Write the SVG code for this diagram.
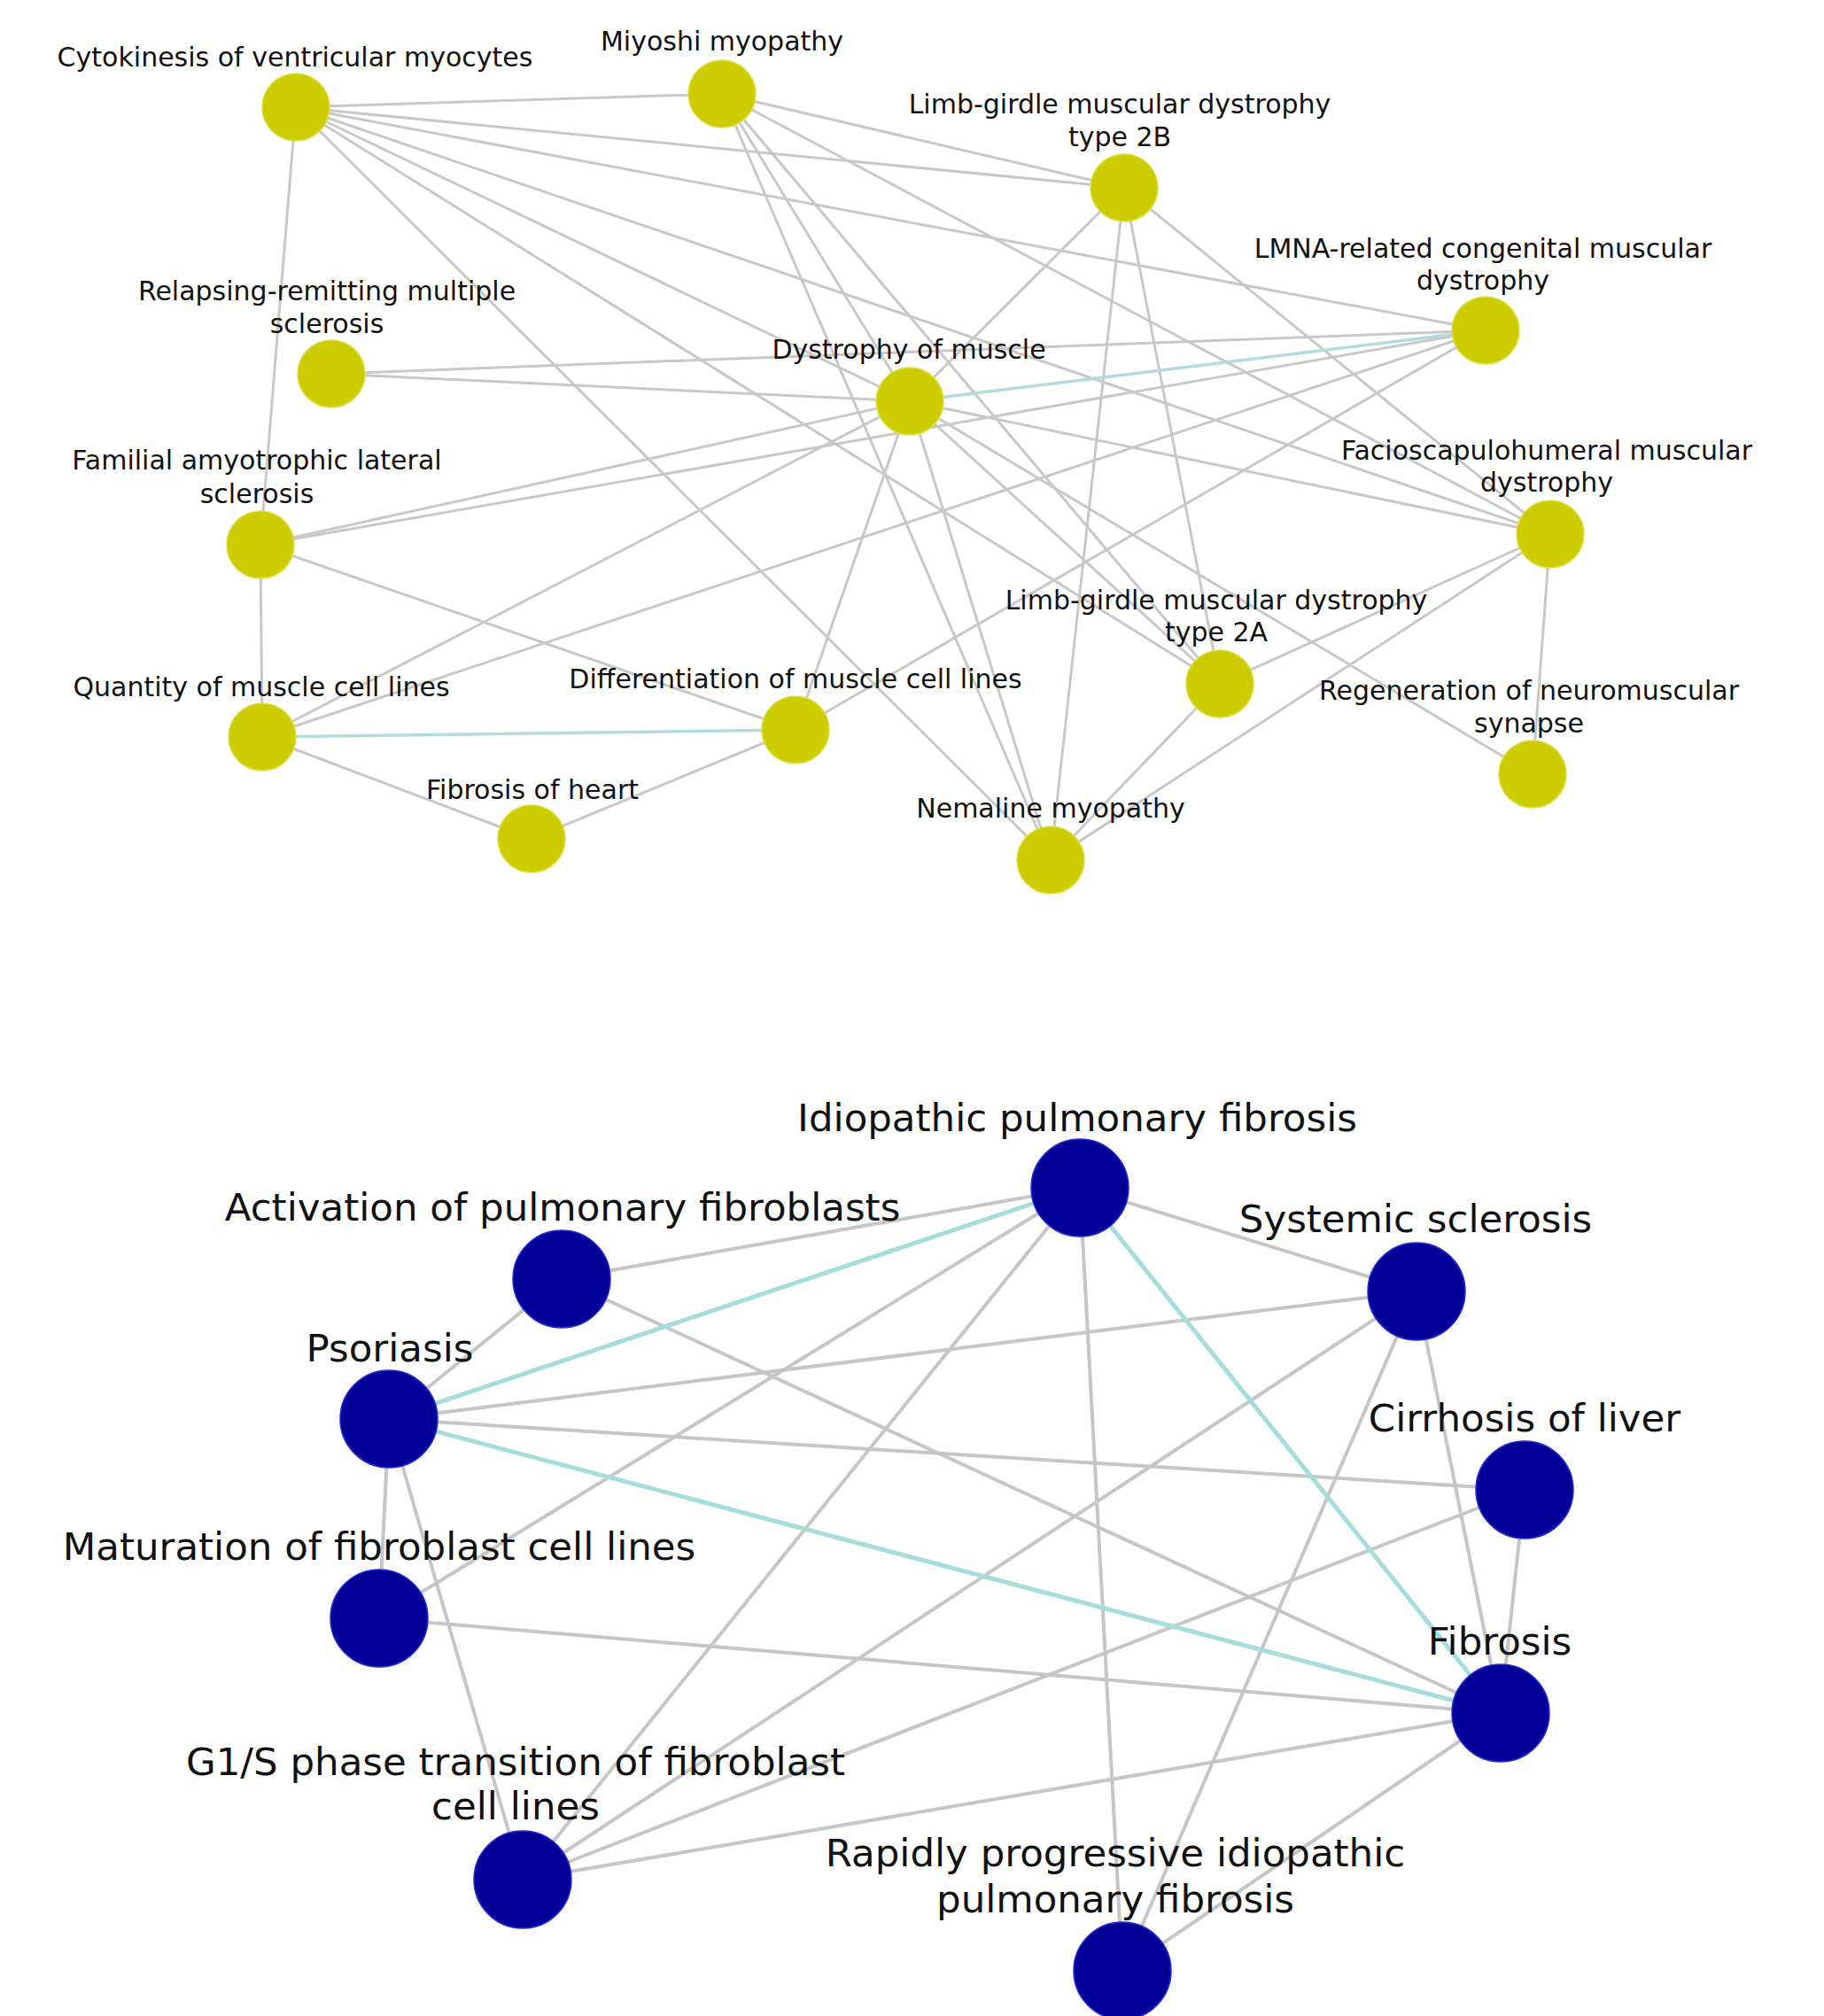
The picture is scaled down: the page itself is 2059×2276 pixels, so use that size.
<svg xmlns="http://www.w3.org/2000/svg" width="2059" height="2276" viewBox="0 0 2059 2276">
<style>
.e{stroke:#c8c8c8;stroke-width:3;fill:none}
.eb{stroke:#b3dadd;stroke-width:3.5;fill:none}
.E{stroke:#c6c6c6;stroke-width:4;fill:none}
.EB{stroke:#a6dcdc;stroke-width:5;fill:none}
.ny{fill:#cccc00;stroke:#dede40;stroke-width:1.5}
.nb{fill:#000099;stroke:#2a2ad0;stroke-width:1.5}
.t{font-family:"DejaVu Sans",Verdana,sans-serif;font-size:30px;fill:#111;text-anchor:middle}
.T{font-family:"DejaVu Sans",Verdana,sans-serif;font-size:43.5px;fill:#111;text-anchor:middle}
</style>
<rect width="2059" height="2276" fill="#ffffff"/>
<g id="connectors">
<line class="e" x1="334" y1="121" x2="815" y2="106"/>
<line class="e" x1="334" y1="121" x2="1269" y2="212"/>
<line class="e" x1="334" y1="121" x2="1677" y2="373"/>
<line class="e" x1="334" y1="121" x2="1750" y2="603"/>
<line class="e" x1="334" y1="121" x2="1027" y2="453"/>
<line class="e" x1="334" y1="121" x2="1377" y2="772"/>
<line class="e" x1="334" y1="121" x2="1186" y2="971"/>
<line class="e" x1="334" y1="121" x2="294" y2="615"/>
<line class="e" x1="815" y1="106" x2="1269" y2="212"/>
<line class="e" x1="815" y1="106" x2="1750" y2="603"/>
<line class="e" x1="815" y1="106" x2="1377" y2="772"/>
<line class="e" x1="815" y1="106" x2="1186" y2="971"/>
<line class="e" x1="815" y1="106" x2="1027" y2="453"/>
<line class="e" x1="1269" y1="212" x2="1027" y2="453"/>
<line class="e" x1="1269" y1="212" x2="1750" y2="603"/>
<line class="e" x1="1269" y1="212" x2="1186" y2="971"/>
<line class="e" x1="1269" y1="212" x2="1377" y2="772"/>
<line class="e" x1="374" y1="422" x2="1027" y2="453"/>
<line class="e" x1="374" y1="422" x2="1677" y2="373"/>
<line class="e" x1="294" y1="615" x2="1027" y2="453"/>
<line class="e" x1="294" y1="615" x2="1677" y2="373"/>
<line class="e" x1="294" y1="615" x2="296" y2="832"/>
<line class="e" x1="294" y1="615" x2="898" y2="824"/>
<line class="e" x1="296" y1="832" x2="1027" y2="453"/>
<line class="e" x1="296" y1="832" x2="1677" y2="373"/>
<line class="e" x1="296" y1="832" x2="600" y2="947"/>
<line class="e" x1="898" y1="824" x2="600" y2="947"/>
<line class="e" x1="898" y1="824" x2="1027" y2="453"/>
<line class="e" x1="898" y1="824" x2="1677" y2="373"/>
<line class="e" x1="1027" y1="453" x2="1750" y2="603"/>
<line class="e" x1="1027" y1="453" x2="1377" y2="772"/>
<line class="e" x1="1027" y1="453" x2="1186" y2="971"/>
<line class="e" x1="1027" y1="453" x2="1730" y2="874"/>
<line class="e" x1="1750" y1="603" x2="1377" y2="772"/>
<line class="e" x1="1750" y1="603" x2="1186" y2="971"/>
<line class="e" x1="1750" y1="603" x2="1730" y2="874"/>
<line class="e" x1="1377" y1="772" x2="1186" y2="971"/>
<line class="eb" x1="1027" y1="453" x2="1677" y2="373"/>
<line class="eb" x1="296" y1="832" x2="898" y2="824"/>
<line class="E" x1="1219" y1="1341" x2="634" y2="1444"/>
<line class="E" x1="1219" y1="1341" x2="1599" y2="1458"/>
<line class="E" x1="1219" y1="1341" x2="1267" y2="2225"/>
<line class="E" x1="1219" y1="1341" x2="590" y2="2122"/>
<line class="E" x1="1219" y1="1341" x2="428" y2="1827"/>
<line class="E" x1="634" y1="1444" x2="439" y2="1602"/>
<line class="E" x1="634" y1="1444" x2="1694" y2="1934"/>
<line class="E" x1="439" y1="1602" x2="1599" y2="1458"/>
<line class="E" x1="439" y1="1602" x2="1721" y2="1682"/>
<line class="E" x1="439" y1="1602" x2="428" y2="1827"/>
<line class="E" x1="439" y1="1602" x2="590" y2="2122"/>
<line class="E" x1="1599" y1="1458" x2="590" y2="2122"/>
<line class="E" x1="1599" y1="1458" x2="1267" y2="2225"/>
<line class="E" x1="1599" y1="1458" x2="1694" y2="1934"/>
<line class="E" x1="1721" y1="1682" x2="1694" y2="1934"/>
<line class="E" x1="1721" y1="1682" x2="590" y2="2122"/>
<line class="E" x1="428" y1="1827" x2="1694" y2="1934"/>
<line class="E" x1="590" y1="2122" x2="1694" y2="1934"/>
<line class="E" x1="1267" y1="2225" x2="1694" y2="1934"/>
<line class="EB" x1="1219" y1="1341" x2="439" y2="1602"/>
<line class="EB" x1="1219" y1="1341" x2="1694" y2="1934"/>
<line class="EB" x1="439" y1="1602" x2="1694" y2="1934"/>
</g>
<g id="n-cytokinesis"><circle class="ny" cx="334" cy="121" r="38"/><text class="t" x="333" y="75">Cytokinesis of ventricular myocytes</text></g>
<g id="n-miyoshi"><circle class="ny" cx="815" cy="106" r="38"/><text class="t" x="815" y="57">Miyoshi myopathy</text></g>
<g id="n-lgmd2b"><circle class="ny" cx="1269" cy="212" r="38"/><text class="t" x="1264" y="128">Limb-girdle muscular dystrophy</text><text class="t" x="1264" y="165">type 2B</text></g>
<g id="n-lmna"><circle class="ny" cx="1677" cy="373" r="38"/><text class="t" x="1674" y="291">LMNA-related congenital muscular</text><text class="t" x="1674" y="327">dystrophy</text></g>
<g id="n-relapsing"><circle class="ny" cx="374" cy="422" r="38"/><text class="t" x="369" y="339">Relapsing-remitting multiple</text><text class="t" x="369" y="376">sclerosis</text></g>
<g id="n-dystrophy"><circle class="ny" cx="1027" cy="453" r="38"/><text class="t" x="1026" y="405">Dystrophy of muscle</text></g>
<g id="n-familial"><circle class="ny" cx="294" cy="615" r="38"/><text class="t" x="290" y="530">Familial amyotrophic lateral</text><text class="t" x="290" y="568">sclerosis</text></g>
<g id="n-facio"><circle class="ny" cx="1750" cy="603" r="38"/><text class="t" x="1746" y="519">Facioscapulohumeral muscular</text><text class="t" x="1746" y="555">dystrophy</text></g>
<g id="n-lgmd2a"><circle class="ny" cx="1377" cy="772" r="38"/><text class="t" x="1373" y="688">Limb-girdle muscular dystrophy</text><text class="t" x="1373" y="724">type 2A</text></g>
<g id="n-quantity"><circle class="ny" cx="296" cy="832" r="38"/><text class="t" x="295" y="786">Quantity of muscle cell lines</text></g>
<g id="n-differentiation"><circle class="ny" cx="898" cy="824" r="38"/><text class="t" x="898" y="777">Differentiation of muscle cell lines</text></g>
<g id="n-regeneration"><circle class="ny" cx="1730" cy="874" r="38"/><text class="t" x="1726" y="790">Regeneration of neuromuscular</text><text class="t" x="1726" y="827">synapse</text></g>
<g id="n-fibrosis-heart"><circle class="ny" cx="600" cy="947" r="38"/><text class="t" x="601" y="902">Fibrosis of heart</text></g>
<g id="n-nemaline"><circle class="ny" cx="1186" cy="971" r="38"/><text class="t" x="1186" y="923">Nemaline myopathy</text></g>
<g id="n-ipf"><circle class="nb" cx="1219" cy="1341" r="55"/><text class="T" x="1216" y="1277">Idiopathic pulmonary fibrosis</text></g>
<g id="n-activation"><circle class="nb" cx="634" cy="1444" r="55"/><text class="T" x="635" y="1378">Activation of pulmonary fibroblasts</text></g>
<g id="n-systemic"><circle class="nb" cx="1599" cy="1458" r="55"/><text class="T" x="1598" y="1391">Systemic sclerosis</text></g>
<g id="n-psoriasis"><circle class="nb" cx="439" cy="1602" r="55"/><text class="T" x="440" y="1537">Psoriasis</text></g>
<g id="n-cirrhosis"><circle class="nb" cx="1721" cy="1682" r="55"/><text class="T" x="1721" y="1616">Cirrhosis of liver</text></g>
<g id="n-maturation"><circle class="nb" cx="428" cy="1827" r="55"/><text class="T" x="428" y="1761">Maturation of fibroblast cell lines</text></g>
<g id="n-fibrosis"><circle class="nb" cx="1694" cy="1934" r="55"/><text class="T" x="1693" y="1868">Fibrosis</text></g>
<g id="n-g1s"><circle class="nb" cx="590" cy="2122" r="55"/><text class="T" x="582" y="2004">G1/S phase transition of fibroblast</text><text class="T" x="582" y="2054">cell lines</text></g>
<g id="n-rapid"><circle class="nb" cx="1267" cy="2225" r="55"/><text class="T" x="1259" y="2107">Rapidly progressive idiopathic</text><text class="T" x="1259" y="2159">pulmonary fibrosis</text></g>
</svg>
